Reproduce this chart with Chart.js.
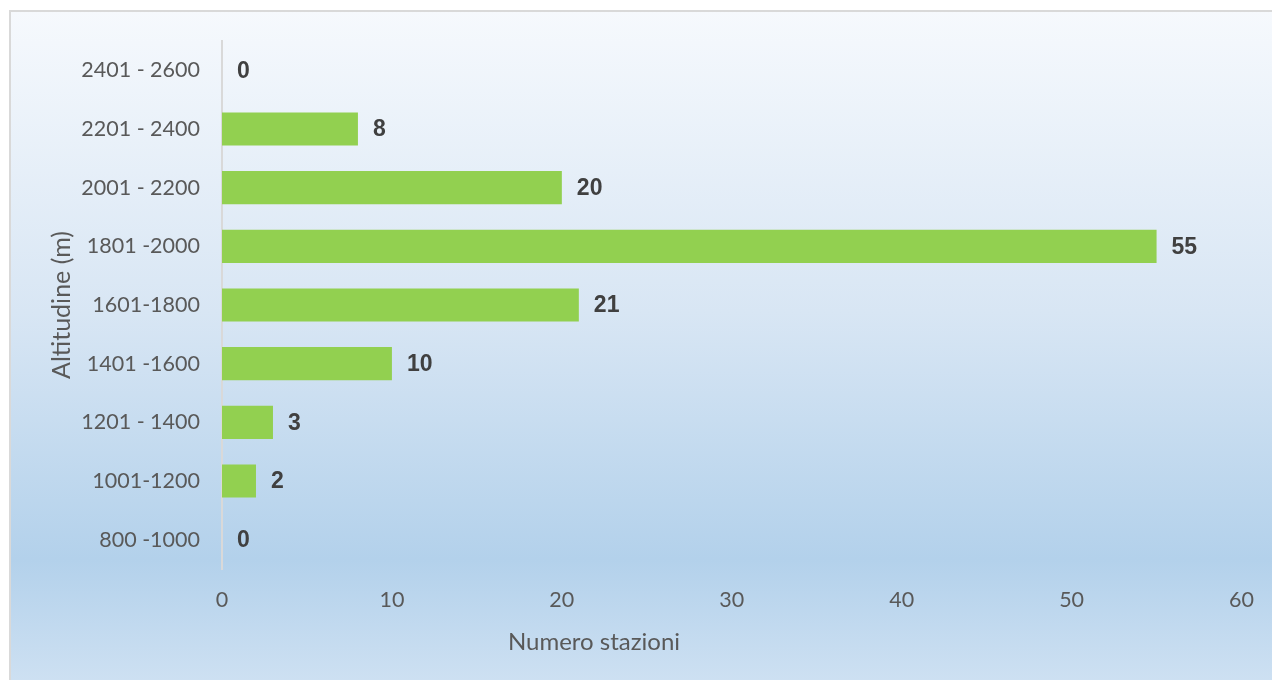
<!DOCTYPE html>
<html>
<head>
<meta charset="utf-8">
<script src="https://cdn.jsdelivr.net/npm/chart.js@4/dist/chart.umd.min.js"></script>
<style>
html, body { margin: 0; padding: 0; background: #ffffff; }
#wrap { width: 1272px; height: 680px; position: relative; }
</style>
</head>
<body>
<div id="wrap"><canvas id="myChart" width="1272" height="680"></canvas></div>
<script>
// fasce di altitudine, dall'alto verso il basso
var fasce = ['2401 - 2600', '2201 - 2400', '2001 - 2200', '1801 -2000', '1601-1800',
             '1401 -1600', '1201 - 1400', '1001-1200', '800 -1000']
var stazioni = [0, 8, 20, 55, 21, 10, 3, 2, 0]
var xTicks = [0, 10, 20, 30, 40, 50, 60]
var titoloX = 'Numero stazioni'
var titoloY = 'Altitudine (m)'

var sfondo = {
  id: 'sfondo',
  beforeDraw: function(chart) {
    var ctx = chart.ctx
    ctx.save()
    ctx.fillStyle = '#ffffff'
    ctx.fillRect(0, 0, chart.width, chart.height)
    var g = ctx.createLinearGradient(0, 11, 0, chart.height)
    g.addColorStop(0, '#f6f9fd')
    g.addColorStop(0.45, '#d8e6f4')
    g.addColorStop(0.82, '#b3d1eb')
    g.addColorStop(1, '#cde0f2')
    ctx.fillStyle = g
    ctx.fillRect(10, 11, chart.width - 10, chart.height - 11)
    ctx.strokeStyle = '#d9d9d9'
    ctx.lineWidth = 2
    ctx.beginPath()
    ctx.moveTo(10, chart.height)
    ctx.lineTo(10, 11)
    ctx.lineTo(chart.width, 11)
    ctx.stroke()
    ctx.restore()
  }
}

// valori sulle barre + titolo asse x (in Excel non è centrato sull'area del grafico)
var etichette = {
  id: 'etichette',
  afterDatasetsDraw: function(chart) {
    var ctx = chart.ctx
    ctx.save()
    ctx.font = 'bold 23px "Liberation Sans", Arial, sans-serif'
    ctx.fillStyle = '#404040'
    ctx.textAlign = 'left'
    ctx.textBaseline = 'middle'
    chart.getDatasetMeta(0).data.forEach(function(bar, i) {
      ctx.fillText(String(stazioni[i]), bar.x + 15, bar.y + 1)
    })
    ctx.font = '24px Lato'
    ctx.fillStyle = '#595959'
    ctx.textAlign = 'center'
    ctx.fillText(titoloX, 594, 642)
    ctx.restore()
  }
}

var chart = new Chart('myChart', {
  type: 'bar',
  data: {
    labels: fasce,
    datasets: [{
      data: stazioni,
      backgroundColor: '#92d050',
      borderWidth: 0,
      categoryPercentage: 1,
      barPercentage: 0.565
    }]
  },
  options: {
    indexAxis: 'y',
    responsive: false,
    animation: false,
    layout: { padding: { top: 41, right: 28, left: 0, bottom: 0 } },
    plugins: {
      legend: { display: false },
      tooltip: { enabled: false }
    },
    scales: {
      x: {
        min: 0,
        max: 60,
        afterFit: function(scale) { scale.height = 111 },
        afterBuildTicks: function(scale) {
          scale.ticks = xTicks.map(function(v) { return { value: v } })
        },
        grid: { display: false, drawTicks: false },
        border: { display: false },
        ticks: {
          padding: 18,
          color: '#595959',
          font: { family: 'Lato', size: 21.5 }
        }
      },
      y: {
        afterFit: function(scale) { scale.width = 222 },
        grid: { display: false, drawTicks: false },
        border: { display: true, color: '#d9d9d9', width: 2 },
        ticks: {
          padding: 22,
          color: '#595959',
          font: { family: 'Lato', size: 21.5 }
        },
        title: {
          display: true,
          text: titoloY,
          color: '#595959',
          font: { family: 'Lato', size: 25 },
          padding: { top: 47, bottom: 0 }
        }
      }
    }
  },
  plugins: [sfondo, etichette]
})
</script>
</body>
</html>
